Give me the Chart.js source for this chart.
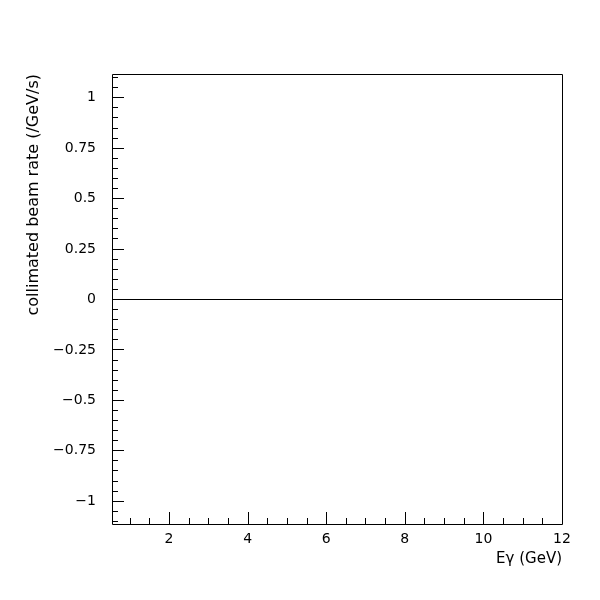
<!DOCTYPE html>
<html>
<head>
<meta charset="utf-8">
<script src="https://cdn.jsdelivr.net/npm/chart.js@4.4.1/dist/chart.umd.min.js"></script>
<style>
  html, body { margin: 0; padding: 0; background: #fff; }
  #wrap { width: 600px; height: 600px; }
</style>
</head>
<body>
<div id="wrap"><canvas id="myChart" width="600" height="600"></canvas></div>
<script>
'use strict' ;

// histogram range and contents (empty -> flat at zero)
const eGamma = [0.55, 12] ;
const rate = [0, 0] ;

// axis ranges and labelled ticks
const xRange = [0.55, 12] ;
const yRange = [-1.113, 1.118] ;
const xTicks = [2, 4, 6, 8, 10, 12] ;
const yTicks = [-1, -0.75, -0.5, -0.25, 0, 0.25, 0.5, 0.75, 1] ;
const xMinorStep = 0.5 ;
const yMinorStep = 0.05 ;

function isMajor (v, list)
{
  return list.some(t => Math.abs(t - v) < 1e-6) ;
}

function buildTicks (scale, step)
{
  let out = [] ;
  let k0 = Math.ceil(scale.min / step - 1e-9) ;
  let k1 = Math.floor(scale.max / step + 1e-9) ;
  for ( let k = k0 ; k <= k1 ; k++ )
  {
    out.push({ value: Math.round(k * step * 1000) / 1000 }) ;
  }
  scale.ticks = out ;
}

function fmt (v)
{
  let s = String(v) ;
  return v < 0 ? '\u2212' + s.slice(1) : s ;
}

// frame + inward tick marks (PAW style)
const framePlugin = {
  id: 'frame',
  afterDatasetsDraw (chart)
  {
    const ctx = chart.ctx ;
    const a = chart.chartArea ;
    const xs = chart.scales.x ;
    const ys = chart.scales.y ;
    ctx.save() ;
    ctx.strokeStyle = '#000' ;
    ctx.lineWidth = 1 ;
    ctx.beginPath() ;
    ctx.rect(Math.round(a.left) + 0.5, Math.round(a.top) + 0.5,
      Math.round(a.right - a.left), Math.round(a.bottom - a.top)) ;
    for ( let i = 0 ; i < ys.ticks.length ; i++ )
    {
      let v = ys.ticks[i].value ;
      let py = Math.floor(ys.getPixelForValue(v)) + 0.5 ;
      let len = isMajor(v, yTicks) ? 12 : 6 ;
      ctx.moveTo(a.left, py) ;
      ctx.lineTo(a.left + len, py) ;
    }
    for ( let i = 0 ; i < xs.ticks.length ; i++ )
    {
      let v = xs.ticks[i].value ;
      let px = Math.round(xs.getPixelForValue(v)) + 0.5 ;
      let len = isMajor(v, xTicks) ? 12 : 6 ;
      ctx.moveTo(px, a.bottom) ;
      ctx.lineTo(px, a.bottom - len) ;
    }
    ctx.stroke() ;
    ctx.restore() ;
  }
} ;

const tickFont = { family: 'DejaVu Sans', size: 14 } ;

let ctx = document.getElementById('myChart').getContext('2d') ;
let myChart = new Chart(ctx, {
  type: 'line',
  data: {
    datasets: [{
      label: 'rate',
      data: eGamma.map((e, i) => ({ x: e, y: rate[i] })),
      borderColor: '#000',
      borderWidth: 1,
      pointRadius: 0,
      fill: false,
      tension: 0
    }]
  },
  options: {
    responsive: false,
    animation: false,
    layout: { padding: { left: 0, top: 74, right: 38, bottom: 0 } },
    plugins: {
      legend: { display: false },
      tooltip: { enabled: false }
    },
    scales: {
      x: {
        type: 'linear',
        min: xRange[0],
        max: xRange[1],
        grid: { display: false, drawTicks: false },
        border: { display: false },
        afterBuildTicks: scale => buildTicks(scale, xMinorStep),
        afterFit: scale => { scale.height = 76 ; },
        ticks: {
          autoSkip: false,
          maxRotation: 0,
          padding: 7,
          color: '#000',
          font: tickFont,
          callback: v => isMajor(v, xTicks) ? fmt(v) : ''
        },
        title: {
          display: true,
          text: 'E\u03b3 (GeV)',
          align: 'end',
          color: '#000',
          font: { family: 'DejaVu Sans', size: 15 },
          padding: { top: 0, bottom: 32 }
        }
      },
      y: {
        type: 'linear',
        min: yRange[0],
        max: yRange[1],
        grid: { display: false, drawTicks: false },
        border: { display: false },
        afterBuildTicks: scale => buildTicks(scale, yMinorStep),
        afterFit: scale => { scale.width = 112 ; },
        ticks: {
          autoSkip: false,
          padding: 16,
          color: '#000',
          font: tickFont,
          callback: v => isMajor(v, yTicks) ? fmt(v) : ''
        },
        title: {
          display: true,
          text: 'collimated beam rate (/GeV/s)',
          align: 'end',
          color: '#000',
          font: { family: 'DejaVu Sans', size: 16 },
          padding: { top: 24, bottom: 0 }
        }
      }
    }
  },
  plugins: [framePlugin]
}) ;
</script>
</body>
</html>
